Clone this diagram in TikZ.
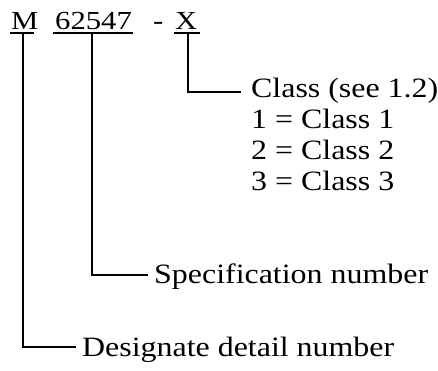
\documentclass[tikz,border=0pt]{standalone}
\usepackage{fontspec}
\setmainfont{Liberation Serif}[FakeStretch=1.18]
\newfontfamily\lblfont{Liberation Serif}[FakeStretch=1.14]
\begin{document}
\begin{tikzpicture}[x=1pt,y=1pt,
  code/.style={inner sep=0pt,anchor=base west,font=\fontsize{26}{31}\selectfont},
  txt/.style={inner sep=0pt,anchor=base west,font=\lblfont\fontsize{28}{31}\selectfont},
  conn/.style={line width=1.5pt},
  uline/.style={line width=1.5pt}]
\useasboundingbox (0,0) rectangle (438,-370);
% top code
\node[code] (M) at (11,-29) {M};
\node[code] (num) at (55,-29) {62547};
\node[code] (dash) at (153,-29) {-};
\node[code] (X) at (175,-29) {X};
% underlines
\coordinate (Mul1) at (10,-33);  \coordinate (Mul2) at (34,-33);
\coordinate (Nul1) at (53,-33);  \coordinate (Nul2) at (133,-33);
\coordinate (Xul1) at (174,-33); \coordinate (Xul2) at (200,-33);
\draw[uline] (Mul1) -- (Mul2);
\draw[uline] (Nul1) -- (Nul2);
\draw[uline] (Xul1) -- (Xul2);
% labels
\node[txt] (cls) at (251,-97) {Class (see 1.2)};
\node[txt] (c1) at (251,-128) {1 = Class 1};
\node[txt] (c2) at (251,-159) {2 = Class 2};
\node[txt] (c3) at (251,-190) {3 = Class 3};
\node[txt] (spec) at (154,-283) {Specification number};
\node[txt] (des) at (82,-356) {Designate detail number};
% connectors
\coordinate (Xd) at (188,-33);
\coordinate (Nd) at (92,-33);
\coordinate (Md) at (23,-33);
\coordinate (clsE) at (241,-92);
\coordinate (specE) at (148,-275);
\coordinate (desE) at (76,-347);
\draw[conn] (Xd) |- (clsE);
\draw[conn] (Nd) |- (specE);
\draw[conn] (Md) |- (desE);
\end{tikzpicture}
\end{document}
